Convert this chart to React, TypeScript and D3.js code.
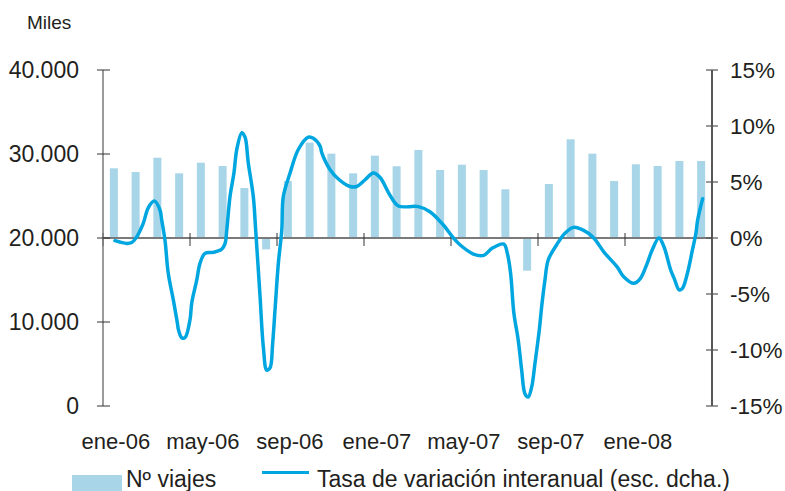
import React from 'react';
import * as d3 from 'd3';

const months = [
  'ene-06', 'feb-06', 'mar-06', 'abr-06', 'may-06', 'jun-06', 'jul-06', 'ago-06', 'sep-06', 'oct-06', 'nov-06', 'dic-06',
  'ene-07', 'feb-07', 'mar-07', 'abr-07', 'may-07', 'jun-07', 'jul-07', 'ago-07', 'sep-07', 'oct-07', 'nov-07', 'dic-07',
  'ene-08', 'feb-08', 'mar-08', 'abr-08',
];

const viajes = [
  28300, 27860, 29560, 27700, 28960, 28570, 25950, 18650, 26790, 31350, 30040, 27700,
  29800, 28540, 30480, 28100, 28730, 28100, 25800, 16110, 26430, 31750, 30040, 26790,
  28770, 28570, 29170, 29170,
];

// position of each reading along the month axis (0 = ene-06) and rate in %
const tasaPos = [
  0.05, 0.59, 0.82, 1.05, 1.35, 1.58, 1.86, 2.12, 2.2, 2.35, 2.5, 2.73, 2.92, 2.97, 3.12, 3.27, 3.5, 3.58, 3.81, 3.96,
  4.19, 4.57, 4.96, 5.11, 5.19, 5.34, 5.52, 5.65, 5.88, 6.03, 6.18, 6.41, 6.52, 6.72, 6.87, 7.03, 7.18, 7.3, 7.41, 7.56,
  7.72, 7.79, 8.1, 8.48, 8.94, 9.17, 9.48, 9.56, 9.94, 10.36, 10.86, 11.16, 11.55, 11.93, 12.24, 12.7, 13.08, 14.0, 14.53, 15.15,
  15.61, 15.91, 16.53, 17.0, 17.4, 17.93, 18.09, 18.24, 18.39, 18.59, 18.75, 18.9, 19.05, 19.21, 19.36, 19.56, 19.67, 19.82, 19.97, 20.36,
  20.74, 21.13, 21.58, 22.04, 22.55, 23.13, 23.44, 23.9, 24.21, 24.52, 24.75, 25.06, 25.29, 25.6, 25.76, 25.99, 26.14, 26.37, 26.6, 26.76,
  26.84, 27.07,
];
const tasaVal = [
  -0.24, -0.48, -0.4, 0.1, 1.3, 2.7, 3.3, 2.5, 1.6, -0.2, -3.15, -5.5, -7.6, -8.2, -8.9, -8.9, -7.3, -5.8, -3.75, -2.26,
  -1.37, -1.28, -1.0, -0.5, 0.7, 3.7, 5.8, 7.9, 9.4, 9.0, 6.7, 3.7, 0.7, -5.2, -9.7, -11.8, -11.6, -9.4, -6.4, -2.3,
  0.7, 3.7, 5.8, 7.9, 9.0, 8.9, 8.2, 7.6, 6.1, 5.2, 4.6, 4.6, 5.2, 5.8, 5.4, 3.8, 2.86, 2.8, 2.35, 1.16,
  0.0, -0.6, -1.43, -1.55, -0.9, -0.54, -1.37, -3.15, -6.7, -9.1, -11.8, -13.9, -14.2, -13.3, -11.2, -8.2, -6.1, -3.75, -1.96, -0.6,
  0.42, 0.95, 0.7, 0.05, -1.3, -2.56, -3.45, -4.05, -3.6, -2.26, -1.07, 0.0, -0.78, -2.86, -3.6, -4.64, -4.5, -3.15, -1.07, 0.42,
  1.6, 3.5,
];

const leftTicks = [0, 10000, 20000, 30000, 40000];
const rightTicks = [-15, -10, -5, 0, 5, 10, 15];
const xLabels = ['ene-06', 'may-06', 'sep-06', 'ene-07', 'may-07', 'sep-07', 'ene-08'];
const leftUnit = 'Miles';
const legendBars = 'Nº viajes';
const legendLine = 'Tasa de variación interanual (esc. dcha.)';

const BAR_COLOR = '#a8d6e8';
const LINE_COLOR = '#00a6e0';
const FONT = '"Liberation Sans", Arial, Helvetica, sans-serif';

export default function App() {
  const W = 785;
  const H = 491;
  const x0 = 103;
  const x1 = 712;
  const x = d3.scaleBand<string>().domain(months).range([x0, x1]).padding(0);
  const xt = d3.scaleLinear().domain([-0.5, months.length - 0.5]).range([x0, x1]);
  const yL = d3.scaleLinear().domain([0, 40000]).range([406, 70]);
  const yR = d3.scaleLinear().domain([-15, 15]).range([406, 70]);
  const loc = d3.formatLocale({ decimal: ',', thousands: '.', grouping: [3], currency: ['', '€'] });
  const fmt = loc.format(',');
  const base = yL(20000);
  const bw = 8;

  const pts: [number, number][] = tasaPos.map((p, i) => [p, tasaVal[i]]);
  const line = d3
    .line<[number, number]>()
    .x((d) => xt(d[0]))
    .y((d) => yR(d[1]))
    .curve(d3.curveCatmullRom.alpha(0.5));

  const tickIdx = months.map((_, i) => i).filter((i) => i % 4 === 0);

  return (
    <svg
      width={W}
      height={H}
      style={{ position: 'absolute', left: 0, top: 0, background: '#fff' }}
      fontFamily={FONT}
    >
      <rect width={W} height={H} fill="#fff" />
      {viajes.map((v, i) => {
        const cx = (x(months[i]) as number) + x.bandwidth() / 2;
        const yv = yL(v);
        return (
          <rect
            key={i}
            x={cx - bw / 2}
            y={Math.min(yv, base)}
            width={bw}
            height={Math.abs(base - yv)}
            fill={BAR_COLOR}
          />
        );
      })}
      {/* x axis at 20.000 / 0% */}
      <line x1={x0} x2={x1} y1={base} y2={base} stroke="#7a7a7a" strokeWidth={2} />
      {tickIdx.map((i) => (
        <line key={i} x1={x(months[i])} x2={x(months[i])} y1={base - 5} y2={base + 8} stroke="#333" strokeWidth={1} />
      ))}
      {/* left axis */}
      <line x1={x0} x2={x0} y1={yL(40000)} y2={yL(0)} stroke="#7a7a7a" strokeWidth={1.5} />
      {leftTicks.map((t) => (
        <g key={t}>
          <line x1={x0 - 6} x2={x0 + 7} y1={yL(t)} y2={yL(t)} stroke="#333" strokeWidth={1} />
          <text x={79} y={yL(t)} dy="0.36em" textAnchor="end" fontSize={23} fill="#231f20">
            {fmt(t)}
          </text>
        </g>
      ))}
      <text x={27} y={29} fontSize={19} fill="#231f20">
        {leftUnit}
      </text>
      {/* right axis */}
      <line x1={x1} x2={x1} y1={yR(15)} y2={yR(-15)} stroke="#231f20" strokeWidth={1.5} />
      {rightTicks.map((t) => (
        <g key={t}>
          <line x1={x1 - 6} x2={x1 + 6} y1={yR(t)} y2={yR(t)} stroke="#555" strokeWidth={1.2} />
          <text x={730} y={yR(t)} dy="0.36em" textAnchor="start" fontSize={22.5} fill="#231f20">
            {t}%
          </text>
        </g>
      ))}
      {/* line series */}
      <path d={line(pts) || ''} fill="none" stroke={LINE_COLOR} strokeWidth={3.5} strokeLinejoin="round" strokeLinecap="round" />
      {/* x labels */}
      {xLabels.map((m) => (
        <text
          key={m}
          x={(x(m) as number) + x.bandwidth() / 2 + 2}
          y={449}
          textAnchor="middle"
          fontSize={22}
          fill="#231f20"
        >
          {m}
        </text>
      ))}
      {/* legend */}
      <rect x={72} y={475} width={50} height={16} fill={BAR_COLOR} />
      <text x={126} y={487} fontSize={23} fill="#231f20">
        {legendBars}
      </text>
      <line x1={262} x2={309} y1={472.5} y2={472.5} stroke={LINE_COLOR} strokeWidth={3} />
      <text x={317} y={487} fontSize={23} fill="#231f20">
        {legendLine}
      </text>
    </svg>
  );
}
